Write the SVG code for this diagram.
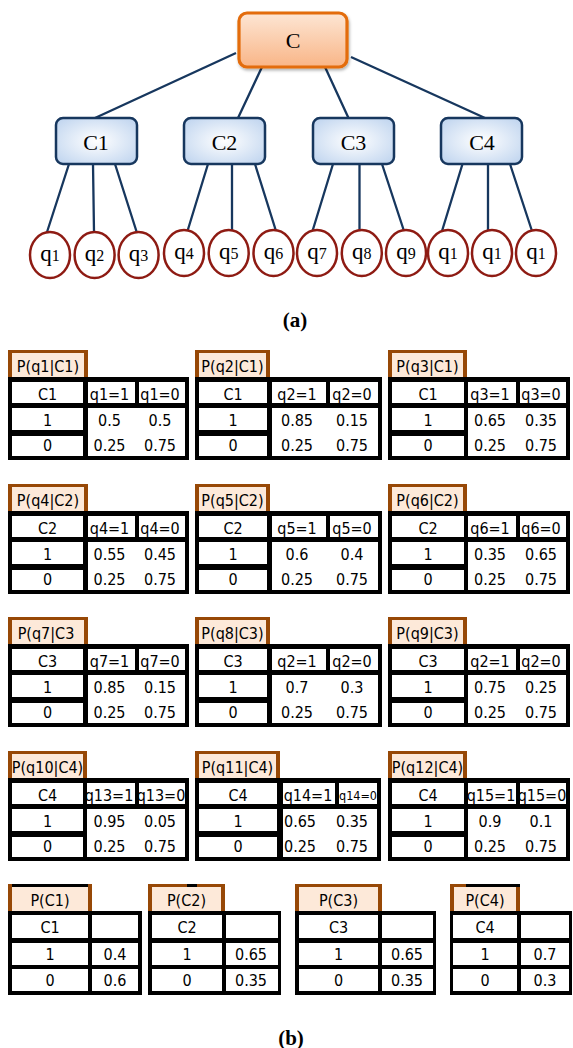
<svg xmlns="http://www.w3.org/2000/svg" width="573" height="1048" viewBox="0 0 573 1048">
<defs>
<linearGradient id="gC" x1="0" y1="0" x2="0" y2="1">
<stop offset="0" stop-color="#fde6d4"/><stop offset="1" stop-color="#f9b587"/>
</linearGradient>
<radialGradient id="gB" cx="0.5" cy="0.5" r="0.7">
<stop offset="0" stop-color="#ffffff"/><stop offset="1" stop-color="#bcd2ee"/>
</radialGradient>
<filter id="sh" x="-20%" y="-20%" width="140%" height="150%">
<feDropShadow dx="1" dy="2" stdDeviation="1.5" flood-color="#000" flood-opacity="0.3"/>
</filter>
<style>
.ln{stroke:#17375e;stroke-width:2.3;fill:none}
.cb{fill:url(#gC);stroke:#e36c09;stroke-width:3.2}
.bb{fill:url(#gB);stroke:#17375e;stroke-width:2.5}
.lf{fill:#fff;stroke:#8e1b13;stroke-width:2.5}
.st{font-family:"Liberation Serif","Times New Roman",serif;font-size:22px;text-anchor:middle;fill:#000}
.qt{font-family:"Liberation Serif","Times New Roman",serif;font-size:23px;text-anchor:middle;fill:#000}
.cap{font-family:"Liberation Serif","Times New Roman",serif;font-size:21px;font-weight:bold;text-anchor:middle;fill:#000}
.frm{fill:#000}
.cell{fill:#fff}
.tab{fill:#fde9d9}
.br{fill:#974806}
.tx{font-family:"DejaVu Sans Condensed","DejaVu Sans",sans-serif;font-size:16px;text-anchor:middle;fill:#000}
</style>
</defs>
<rect width="573" height="1048" fill="#fff"/>

<g id="connectors">
<path class="ln" d="M236,53 L95,118 M262,67 L238,118 M325,67 L348.5,118 M351,57 L485,118"/>
<path class="ln" d="M69,164 L46.7,233 M93,164 L94,232 M115,164 L137,233"/>
<path class="ln" d="M208,164 L187.5,231 M232,164 L232,230 M255,164 L276,231"/>
<path class="ln" d="M333,164 L312.5,231 M359.5,164 L359.5,230 M382,164 L404,231"/>
<path class="ln" d="M462.5,164 L442,231 M488,164 L488,230 M510,164 L532,231"/>
</g>

<g id="node-C"><rect class="cb" x="239" y="13" width="108" height="54" rx="8" filter="url(#sh)"/><text class="st" x="293" y="48">C</text></g>
<g id="node-C1"><rect class="bb" x="56" y="118" width="81" height="46" rx="7"/><text class="st" x="96" y="150">C1</text></g>
<g id="node-C2"><rect class="bb" x="184" y="118" width="81" height="46" rx="7"/><text class="st" x="224.5" y="150">C2</text></g>
<g id="node-C3"><rect class="bb" x="313" y="118" width="81" height="46" rx="7"/><text class="st" x="353.5" y="150">C3</text></g>
<g id="node-C4"><rect class="bb" x="441" y="118" width="81" height="46" rx="7"/><text class="st" x="482" y="150">C4</text></g>

<g id="leaf-q1"><ellipse class="lf" cx="50" cy="255" rx="20" ry="23"/><text class="qt" x="50" y="261">q<tspan font-size="16">1</tspan></text></g>
<g id="leaf-q2"><ellipse class="lf" cx="94.6" cy="255" rx="20" ry="23"/><text class="qt" x="94.6" y="261">q<tspan font-size="16">2</tspan></text></g>
<g id="leaf-q3"><ellipse class="lf" cx="138.6" cy="255" rx="20" ry="23"/><text class="qt" x="138.6" y="261">q<tspan font-size="16">3</tspan></text></g>
<g id="leaf-q4"><ellipse class="lf" cx="184" cy="253" rx="20" ry="23"/><text class="qt" x="184" y="259">q<tspan font-size="16">4</tspan></text></g>
<g id="leaf-q5"><ellipse class="lf" cx="228.7" cy="253" rx="20" ry="23"/><text class="qt" x="228.7" y="259">q<tspan font-size="16">5</tspan></text></g>
<g id="leaf-q6"><ellipse class="lf" cx="273.5" cy="253" rx="20" ry="23"/><text class="qt" x="273.5" y="259">q<tspan font-size="16">6</tspan></text></g>
<g id="leaf-q7"><ellipse class="lf" cx="317" cy="253" rx="20" ry="23"/><text class="qt" x="317" y="259">q<tspan font-size="16">7</tspan></text></g>
<g id="leaf-q8"><ellipse class="lf" cx="361.8" cy="253" rx="20" ry="23"/><text class="qt" x="361.8" y="259">q<tspan font-size="16">8</tspan></text></g>
<g id="leaf-q9"><ellipse class="lf" cx="406" cy="253" rx="20" ry="23"/><text class="qt" x="406" y="259">q<tspan font-size="16">9</tspan></text></g>
<g id="leaf-q10"><ellipse class="lf" cx="448" cy="253" rx="20" ry="23"/><text class="qt" x="448" y="259">q<tspan font-size="16">1</tspan></text></g>
<g id="leaf-q11"><ellipse class="lf" cx="492" cy="253" rx="20" ry="23"/><text class="qt" x="492" y="259">q<tspan font-size="16">1</tspan></text></g>
<g id="leaf-q12"><ellipse class="lf" cx="536" cy="253" rx="20" ry="23"/><text class="qt" x="536" y="259">q<tspan font-size="16">1</tspan></text></g>

<text class="cap" x="295" y="327">(a)</text>

<!-- Row 1 T=377 -->
<g id="t-q1">
<rect class="tab" x="8" y="350" width="80" height="27"/><rect class="br" x="8" y="350" width="80" height="3"/><rect class="br" x="8" y="350" width="4" height="27"/><rect class="br" x="84" y="350" width="4" height="27"/>
<rect class="frm" x="8" y="377" width="181" height="83"/>
<rect class="cell" x="12" y="382" width="71" height="21"/><rect class="cell" x="88" y="382" width="47" height="21"/><rect class="cell" x="139" y="382" width="46" height="21"/>
<rect class="cell" x="12" y="408" width="71" height="22"/><rect class="cell" x="12" y="436" width="71" height="20"/><rect class="cell" x="88" y="408" width="97" height="48"/>
<text class="tx" x="48" y="372">P(q1|C1)</text>
<text class="tx" x="47.5" y="399.5">C1</text><text class="tx" x="109.5" y="399.5">q1=1</text><text class="tx" x="160" y="399.5">q1=0</text>
<text class="tx" x="47.5" y="426">1</text><text class="tx" x="109.5" y="426">0.5</text><text class="tx" x="160" y="426">0.5</text>
<text class="tx" x="47.5" y="451">0</text><text class="tx" x="109.5" y="451">0.25</text><text class="tx" x="160" y="451">0.75</text>
</g>
<g id="t-q2">
<rect class="tab" x="195" y="350" width="75" height="27"/><rect class="br" x="195" y="350" width="75" height="3"/><rect class="br" x="195" y="350" width="4" height="27"/><rect class="br" x="266" y="350" width="4" height="27"/>
<rect class="frm" x="195" y="377" width="187" height="83"/>
<rect class="cell" x="199" y="382" width="68" height="21"/><rect class="cell" x="272" y="382" width="54" height="21"/><rect class="cell" x="330" y="382" width="48" height="21"/>
<rect class="cell" x="199" y="408" width="68" height="22"/><rect class="cell" x="199" y="436" width="68" height="20"/><rect class="cell" x="272" y="408" width="106" height="48"/>
<text class="tx" x="232.5" y="372">P(q2|C1)</text>
<text class="tx" x="233" y="399.5">C1</text><text class="tx" x="297" y="399.5">q2=1</text><text class="tx" x="352" y="399.5">q2=0</text>
<text class="tx" x="233" y="426">1</text><text class="tx" x="297" y="426">0.85</text><text class="tx" x="352" y="426">0.15</text>
<text class="tx" x="233" y="451">0</text><text class="tx" x="297" y="451">0.25</text><text class="tx" x="352" y="451">0.75</text>
</g>
<g id="t-q3">
<rect class="tab" x="388" y="350" width="79" height="27"/><rect class="br" x="388" y="350" width="79" height="3"/><rect class="br" x="388" y="350" width="4" height="27"/><rect class="br" x="463" y="350" width="4" height="27"/>
<rect class="frm" x="388" y="377" width="182" height="83"/>
<rect class="cell" x="392" y="382" width="72" height="21"/><rect class="cell" x="468" y="382" width="48" height="21"/><rect class="cell" x="520" y="382" width="46" height="21"/>
<rect class="cell" x="392" y="408" width="72" height="22"/><rect class="cell" x="392" y="436" width="72" height="20"/><rect class="cell" x="468" y="408" width="98" height="48"/>
<text class="tx" x="427.5" y="372">P(q3|C1)</text>
<text class="tx" x="428" y="399.5">C1</text><text class="tx" x="490" y="399.5">q3=1</text><text class="tx" x="541" y="399.5">q3=0</text>
<text class="tx" x="428" y="426">1</text><text class="tx" x="490" y="426">0.65</text><text class="tx" x="541" y="426">0.35</text>
<text class="tx" x="428" y="451">0</text><text class="tx" x="490" y="451">0.25</text><text class="tx" x="541" y="451">0.75</text>
</g>

<!-- Row 2 T=511 -->
<g id="t-q4">
<rect class="tab" x="8" y="484" width="80" height="27"/><rect class="br" x="8" y="484" width="80" height="3"/><rect class="br" x="8" y="484" width="4" height="27"/><rect class="br" x="84" y="484" width="4" height="27"/>
<rect class="frm" x="8" y="511" width="181" height="83"/>
<rect class="cell" x="12" y="516" width="71" height="21"/><rect class="cell" x="88" y="516" width="47" height="21"/><rect class="cell" x="139" y="516" width="46" height="21"/>
<rect class="cell" x="12" y="542" width="71" height="22"/><rect class="cell" x="12" y="570" width="71" height="20"/><rect class="cell" x="88" y="542" width="97" height="48"/>
<text class="tx" x="48" y="506">P(q4|C2)</text>
<text class="tx" x="47.5" y="533.5">C2</text><text class="tx" x="109.5" y="533.5">q4=1</text><text class="tx" x="160" y="533.5">q4=0</text>
<text class="tx" x="47.5" y="560">1</text><text class="tx" x="109.5" y="560">0.55</text><text class="tx" x="160" y="560">0.45</text>
<text class="tx" x="47.5" y="585">0</text><text class="tx" x="109.5" y="585">0.25</text><text class="tx" x="160" y="585">0.75</text>
</g>
<g id="t-q5">
<rect class="tab" x="195" y="484" width="75" height="27"/><rect class="br" x="195" y="484" width="75" height="3"/><rect class="br" x="195" y="484" width="4" height="27"/><rect class="br" x="266" y="484" width="4" height="27"/>
<rect class="frm" x="195" y="511" width="187" height="83"/>
<rect class="cell" x="199" y="516" width="68" height="21"/><rect class="cell" x="272" y="516" width="54" height="21"/><rect class="cell" x="330" y="516" width="48" height="21"/>
<rect class="cell" x="199" y="542" width="68" height="22"/><rect class="cell" x="199" y="570" width="68" height="20"/><rect class="cell" x="272" y="542" width="106" height="48"/>
<text class="tx" x="232.5" y="506">P(q5|C2)</text>
<text class="tx" x="233" y="533.5">C2</text><text class="tx" x="297" y="533.5">q5=1</text><text class="tx" x="352" y="533.5">q5=0</text>
<text class="tx" x="233" y="560">1</text><text class="tx" x="297" y="560">0.6</text><text class="tx" x="352" y="560">0.4</text>
<text class="tx" x="233" y="585">0</text><text class="tx" x="297" y="585">0.25</text><text class="tx" x="352" y="585">0.75</text>
</g>
<g id="t-q6">
<rect class="tab" x="388" y="484" width="79" height="27"/><rect class="br" x="388" y="484" width="79" height="3"/><rect class="br" x="388" y="484" width="4" height="27"/><rect class="br" x="463" y="484" width="4" height="27"/>
<rect class="frm" x="388" y="511" width="182" height="83"/>
<rect class="cell" x="392" y="516" width="72" height="21"/><rect class="cell" x="468" y="516" width="48" height="21"/><rect class="cell" x="520" y="516" width="46" height="21"/>
<rect class="cell" x="392" y="542" width="72" height="22"/><rect class="cell" x="392" y="570" width="72" height="20"/><rect class="cell" x="468" y="542" width="98" height="48"/>
<text class="tx" x="427.5" y="506">P(q6|C2)</text>
<text class="tx" x="428" y="533.5">C2</text><text class="tx" x="490" y="533.5">q6=1</text><text class="tx" x="541" y="533.5">q6=0</text>
<text class="tx" x="428" y="560">1</text><text class="tx" x="490" y="560">0.35</text><text class="tx" x="541" y="560">0.65</text>
<text class="tx" x="428" y="585">0</text><text class="tx" x="490" y="585">0.25</text><text class="tx" x="541" y="585">0.75</text>
</g>

<!-- Row 3 T=644 -->
<g id="t-q7">
<rect class="tab" x="8" y="617" width="80" height="27"/><rect class="br" x="8" y="617" width="80" height="3"/><rect class="br" x="8" y="617" width="4" height="27"/><rect class="br" x="84" y="617" width="4" height="27"/>
<rect class="frm" x="8" y="644" width="181" height="83"/>
<rect class="cell" x="12" y="649" width="71" height="21"/><rect class="cell" x="88" y="649" width="47" height="21"/><rect class="cell" x="139" y="649" width="46" height="21"/>
<rect class="cell" x="12" y="675" width="71" height="22"/><rect class="cell" x="12" y="703" width="71" height="20"/><rect class="cell" x="88" y="675" width="97" height="48"/>
<text class="tx" x="46" y="639">P(q7|C3</text>
<text class="tx" x="47.5" y="666.5">C3</text><text class="tx" x="109.5" y="666.5">q7=1</text><text class="tx" x="160" y="666.5">q7=0</text>
<text class="tx" x="47.5" y="693">1</text><text class="tx" x="109.5" y="693">0.85</text><text class="tx" x="160" y="693">0.15</text>
<text class="tx" x="47.5" y="718">0</text><text class="tx" x="109.5" y="718">0.25</text><text class="tx" x="160" y="718">0.75</text>
</g>
<g id="t-q8">
<rect class="tab" x="195" y="617" width="75" height="27"/><rect class="br" x="195" y="617" width="75" height="3"/><rect class="br" x="195" y="617" width="4" height="27"/><rect class="br" x="266" y="617" width="4" height="27"/>
<rect class="frm" x="195" y="644" width="187" height="83"/>
<rect class="cell" x="199" y="649" width="68" height="21"/><rect class="cell" x="272" y="649" width="54" height="21"/><rect class="cell" x="330" y="649" width="48" height="21"/>
<rect class="cell" x="199" y="675" width="68" height="22"/><rect class="cell" x="199" y="703" width="68" height="20"/><rect class="cell" x="272" y="675" width="106" height="48"/>
<text class="tx" x="232.5" y="639">P(q8|C3)</text>
<text class="tx" x="233" y="666.5">C3</text><text class="tx" x="297" y="666.5">q2=1</text><text class="tx" x="352" y="666.5">q2=0</text>
<text class="tx" x="233" y="693">1</text><text class="tx" x="297" y="693">0.7</text><text class="tx" x="352" y="693">0.3</text>
<text class="tx" x="233" y="718">0</text><text class="tx" x="297" y="718">0.25</text><text class="tx" x="352" y="718">0.75</text>
</g>
<g id="t-q9">
<rect class="tab" x="388" y="617" width="79" height="27"/><rect class="br" x="388" y="617" width="79" height="3"/><rect class="br" x="388" y="617" width="4" height="27"/><rect class="br" x="463" y="617" width="4" height="27"/>
<rect class="frm" x="388" y="644" width="182" height="83"/>
<rect class="cell" x="392" y="649" width="72" height="21"/><rect class="cell" x="468" y="649" width="48" height="21"/><rect class="cell" x="520" y="649" width="46" height="21"/>
<rect class="cell" x="392" y="675" width="72" height="22"/><rect class="cell" x="392" y="703" width="72" height="20"/><rect class="cell" x="468" y="675" width="98" height="48"/>
<text class="tx" x="427.5" y="639">P(q9|C3)</text>
<text class="tx" x="428" y="666.5">C3</text><text class="tx" x="490" y="666.5">q2=1</text><text class="tx" x="541" y="666.5">q2=0</text>
<text class="tx" x="428" y="693">1</text><text class="tx" x="490" y="693">0.75</text><text class="tx" x="541" y="693">0.25</text>
<text class="tx" x="428" y="718">0</text><text class="tx" x="490" y="718">0.25</text><text class="tx" x="541" y="718">0.75</text>
</g>

<!-- Row 4 T=778 -->
<g id="t-q10">
<rect class="tab" x="8" y="751" width="79" height="27"/><rect class="br" x="8" y="751" width="79" height="3"/><rect class="br" x="8" y="751" width="4" height="27"/><rect class="br" x="83" y="751" width="4" height="27"/>
<rect class="frm" x="8" y="778" width="181" height="83"/>
<rect class="cell" x="12" y="783" width="71" height="21"/><rect class="cell" x="87" y="783" width="48" height="21"/><rect class="cell" x="139" y="783" width="46" height="21"/>
<rect class="cell" x="12" y="809" width="71" height="22"/><rect class="cell" x="12" y="837" width="71" height="20"/><rect class="cell" x="87" y="809" width="98" height="48"/>
<text class="tx" x="47.5" y="773">P(q10|C4)</text>
<text class="tx" x="47.5" y="800.5">C4</text><text class="tx" x="109" y="800.5">q13=1</text><text class="tx" x="161" y="800.5">q13=0</text>
<text class="tx" x="47.5" y="827">1</text><text class="tx" x="109.5" y="827">0.95</text><text class="tx" x="160" y="827">0.05</text>
<text class="tx" x="47.5" y="852">0</text><text class="tx" x="109.5" y="852">0.25</text><text class="tx" x="160" y="852">0.75</text>
</g>
<g id="t-q11">
<rect class="tab" x="195" y="751" width="85" height="27"/><rect class="br" x="195" y="751" width="85" height="3"/><rect class="br" x="195" y="751" width="4" height="27"/><rect class="br" x="276" y="751" width="4" height="27"/>
<rect class="frm" x="195" y="778" width="186" height="83"/>
<rect class="cell" x="199" y="783" width="78" height="21"/><rect class="cell" x="283" y="783" width="52" height="21"/><rect class="cell" x="339" y="783" width="38" height="21"/>
<rect class="cell" x="199" y="809" width="78" height="22"/><rect class="cell" x="199" y="837" width="78" height="20"/><rect class="cell" x="283" y="809" width="94" height="48"/>
<text class="tx" x="237.5" y="773">P(q11|C4)</text>
<text class="tx" x="238" y="800.5">C4</text><text class="tx" x="308" y="800.5">q14=1</text><text class="tx" x="358" y="800" style="font-size:12.5px">q14=0</text>
<text class="tx" x="238" y="827">1</text><text class="tx" x="300" y="827">0.65</text><text class="tx" x="352" y="827">0.35</text>
<text class="tx" x="238" y="852">0</text><text class="tx" x="300" y="852">0.25</text><text class="tx" x="352" y="852">0.75</text>
</g>
<g id="t-q12">
<rect class="tab" x="388" y="751" width="79" height="27"/><rect class="br" x="388" y="751" width="79" height="3"/><rect class="br" x="388" y="751" width="4" height="27"/><rect class="br" x="463" y="751" width="4" height="27"/>
<rect class="frm" x="388" y="778" width="182" height="83"/>
<rect class="cell" x="392" y="783" width="72" height="21"/><rect class="cell" x="468" y="783" width="48" height="21"/><rect class="cell" x="520" y="783" width="46" height="21"/>
<rect class="cell" x="392" y="809" width="72" height="22"/><rect class="cell" x="392" y="837" width="72" height="20"/><rect class="cell" x="468" y="809" width="98" height="48"/>
<text class="tx" x="427.5" y="773">P(q12|C4)</text>
<text class="tx" x="428" y="800.5">C4</text><text class="tx" x="491" y="800.5">q15=1</text><text class="tx" x="542" y="800.5">q15=0</text>
<text class="tx" x="428" y="827">1</text><text class="tx" x="490" y="827">0.9</text><text class="tx" x="541" y="827">0.1</text>
<text class="tx" x="428" y="852">0</text><text class="tx" x="490" y="852">0.25</text><text class="tx" x="541" y="852">0.75</text>
</g>

<!-- Bottom row T=911 -->
<g id="t-C1">
<rect class="tab" x="8" y="884" width="84" height="27"/><rect class="frm" x="8" y="884" width="84" height="3"/><rect class="br" x="8" y="884" width="4" height="27"/><rect class="br" x="88" y="884" width="4" height="27"/>
<rect class="frm" x="8" y="911" width="134" height="84"/>
<rect class="cell" x="12" y="915" width="76" height="23"/><rect class="cell" x="92" y="915" width="46" height="23"/>
<rect class="cell" x="12" y="943" width="76" height="22"/><rect class="cell" x="92" y="943" width="46" height="22"/>
<rect class="cell" x="12" y="969" width="76" height="22"/><rect class="cell" x="92" y="969" width="46" height="22"/>
<text class="tx" x="50" y="906">P(C1)</text>
<text class="tx" x="50" y="932.5">C1</text>
<text class="tx" x="50" y="960">1</text><text class="tx" x="115" y="960">0.4</text>
<text class="tx" x="50" y="986">0</text><text class="tx" x="115" y="986">0.6</text>
</g>
<g id="t-C2">
<rect class="tab" x="148" y="884" width="77" height="27"/><rect class="br" x="148" y="884" width="77" height="3"/><rect class="frm" x="187" y="884" width="10" height="3"/><rect class="br" x="148" y="884" width="4" height="27"/><rect class="br" x="221" y="884" width="4" height="27"/>
<rect class="frm" x="148" y="911" width="133" height="84"/>
<rect class="cell" x="152" y="915" width="70" height="23"/><rect class="cell" x="226" y="915" width="52" height="23"/>
<rect class="cell" x="152" y="943" width="70" height="22"/><rect class="cell" x="226" y="943" width="52" height="22"/>
<rect class="cell" x="152" y="969" width="70" height="22"/><rect class="cell" x="226" y="969" width="52" height="22"/>
<text class="tx" x="186.5" y="906">P(C2)</text>
<text class="tx" x="187" y="932.5">C2</text>
<text class="tx" x="187" y="960">1</text><text class="tx" x="251" y="960">0.65</text>
<text class="tx" x="187" y="986">0</text><text class="tx" x="251" y="986">0.35</text>
</g>
<g id="t-C3">
<rect class="tab" x="295" y="884" width="87" height="27"/><rect class="br" x="295" y="884" width="87" height="3"/><rect class="br" x="295" y="884" width="4" height="27"/><rect class="br" x="378" y="884" width="4" height="27"/>
<rect class="frm" x="295" y="911" width="141" height="84"/>
<rect class="cell" x="299" y="915" width="79" height="23"/><rect class="cell" x="382" y="915" width="51" height="23"/>
<rect class="cell" x="299" y="943" width="79" height="22"/><rect class="cell" x="382" y="943" width="51" height="22"/>
<rect class="cell" x="299" y="969" width="79" height="22"/><rect class="cell" x="382" y="969" width="51" height="22"/>
<text class="tx" x="338.5" y="906">P(C3)</text>
<text class="tx" x="338.5" y="932.5">C3</text>
<text class="tx" x="338.5" y="960">1</text><text class="tx" x="407" y="960">0.65</text>
<text class="tx" x="338.5" y="986">0</text><text class="tx" x="407" y="986">0.35</text>
</g>
<g id="t-C4">
<rect class="tab" x="450" y="884" width="70" height="27"/><rect class="br" x="450" y="884" width="16" height="3"/><rect class="frm" x="466" y="884" width="54" height="3"/><rect class="br" x="450" y="884" width="4" height="27"/><rect class="br" x="516" y="887" width="4" height="24"/>
<rect class="frm" x="450" y="911" width="122" height="84"/>
<rect class="cell" x="453" y="915" width="64" height="23"/><rect class="cell" x="521" y="915" width="48" height="23"/>
<rect class="cell" x="453" y="943" width="64" height="22"/><rect class="cell" x="521" y="943" width="48" height="22"/>
<rect class="cell" x="453" y="969" width="64" height="22"/><rect class="cell" x="521" y="969" width="48" height="22"/>
<text class="tx" x="485" y="906">P(C4)</text>
<text class="tx" x="485" y="932.5">C4</text>
<text class="tx" x="485" y="960">1</text><text class="tx" x="545" y="960">0.7</text>
<text class="tx" x="485" y="986">0</text><text class="tx" x="545" y="986">0.3</text>
</g>

<text class="cap" x="291" y="1045">(b)</text>
</svg>
